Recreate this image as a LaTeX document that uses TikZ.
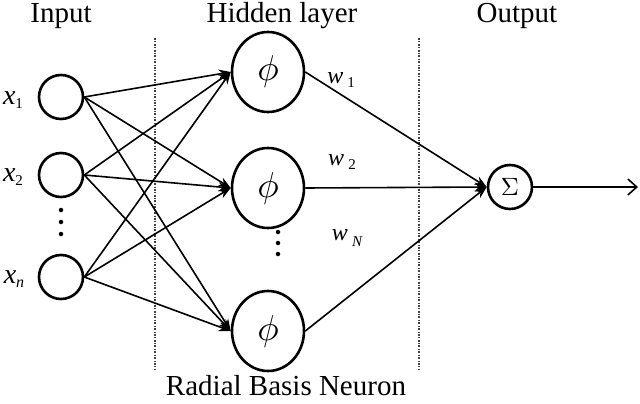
\documentclass[tikz,border=0pt]{standalone}
\usepackage{fontspec}
\setmainfont{Liberation Serif}
\usetikzlibrary{arrows.meta,shapes.geometric}
\begin{document}
\begin{tikzpicture}[x=1pt,y=-1pt,
  inp/.style={draw,line width=2.6pt,circle,minimum size=44pt,inner sep=0pt},
  hid/.style={draw,line width=2.6pt,ellipse,minimum width=72pt,minimum height=80pt,inner sep=0pt},
  sumn/.style={draw,line width=2.6pt,circle,minimum size=44pt,inner sep=0pt},
  conn/.style={line width=1.6pt,-{Stealth[length=12pt,width=9pt]}},
  sep/.style={line width=1.3pt,black!75,dash pattern=on 2pt off 1.5pt on 0.8pt off 1.5pt},
  title/.style={font=\fontsize{29}{30}\selectfont},
  lab/.style={font=\fontsize{28}{30}\selectfont\itshape},
  wlab/.style={font=\fontsize{24}{26}\selectfont\itshape},
  dot/.style={circle,fill,inner sep=0pt,minimum size=4.5pt}
]
\useasboundingbox (0,0) rectangle (640,404);
% separators
\draw[sep] (155,38) -- (155,370);
\draw[sep] (419,38) -- (419,370);
% titles
\node[title] (tin) at (61,16) {Input};
\node[title] (thid) at (282,16) {Hidden layer};
\node[title] (tout) at (517,16) {Output};
\node[title] (trbn) at (286,386) {Radial Basis Neuron};
% input nodes
\node[inp] (i1) at (61,97) {};
\node[inp] (i2) at (61,175) {};
\node[inp] (i3) at (61,277) {};
\node[lab] (l1) at (13,100) {x\raisebox{-0.35ex}{\fontsize{15}{16}\selectfont\upshape 1}};
\node[lab] (l2) at (13,177) {x\raisebox{-0.35ex}{\fontsize{15}{16}\selectfont\upshape 2}};
\node[lab] (l3) at (14,279) {x\raisebox{-0.35ex}{\fontsize{16}{16}\selectfont n}};
\node[dot] (d1) at (61,210) {};
\node[dot] (d2) at (61,222) {};
\node[dot] (d3) at (61,234) {};
% hidden nodes
\node[hid] (h1) at (268,72) {\scalebox{3.6}{$\phi$}};
\node[hid] (h2) at (268,188) {\scalebox{3.6}{$\phi$}};
\node[hid] (h3) at (268,331) {\scalebox{3.6}{$\phi$}};
\node[dot] (e1) at (278,232) {};
\node[dot] (e2) at (278,243) {};
\node[dot] (e3) at (278,254) {};
% sum node
\node[sumn] (s) at (510,187) {\scalebox{2.5}{$\Sigma$}};
\coordinate (out) at (638,187);
% connections input -> hidden
\foreach \i in {i1,i2,i3}{
  \foreach \h in {h1,h2,h3}{
    \draw[conn] (\i.east) -- (\h.west);
  }
}
% hidden -> sum
\draw[conn] (h1.east) -- (s.west);
\draw[conn] (h2.east) -- (s.west);
\draw[conn] (h3.east) -- (s.west);
\draw[line width=1.6pt,-{Straight Barb[length=9pt,width=16pt,line width=1.6pt]}] (s.east) -- (out);
% weights
\node[wlab] (w1) at (341,80) {w\,\raisebox{-0.4ex}{\fontsize{15}{16}\selectfont\upshape 1}};
\node[wlab] (w2) at (342,162) {w\,\raisebox{-0.4ex}{\fontsize{15}{16}\selectfont\upshape 2}};
\node[wlab] (w3) at (347,238) {w\,\raisebox{-0.5ex}{\fontsize{15}{16}\selectfont N}};
\end{tikzpicture}
\end{document}
